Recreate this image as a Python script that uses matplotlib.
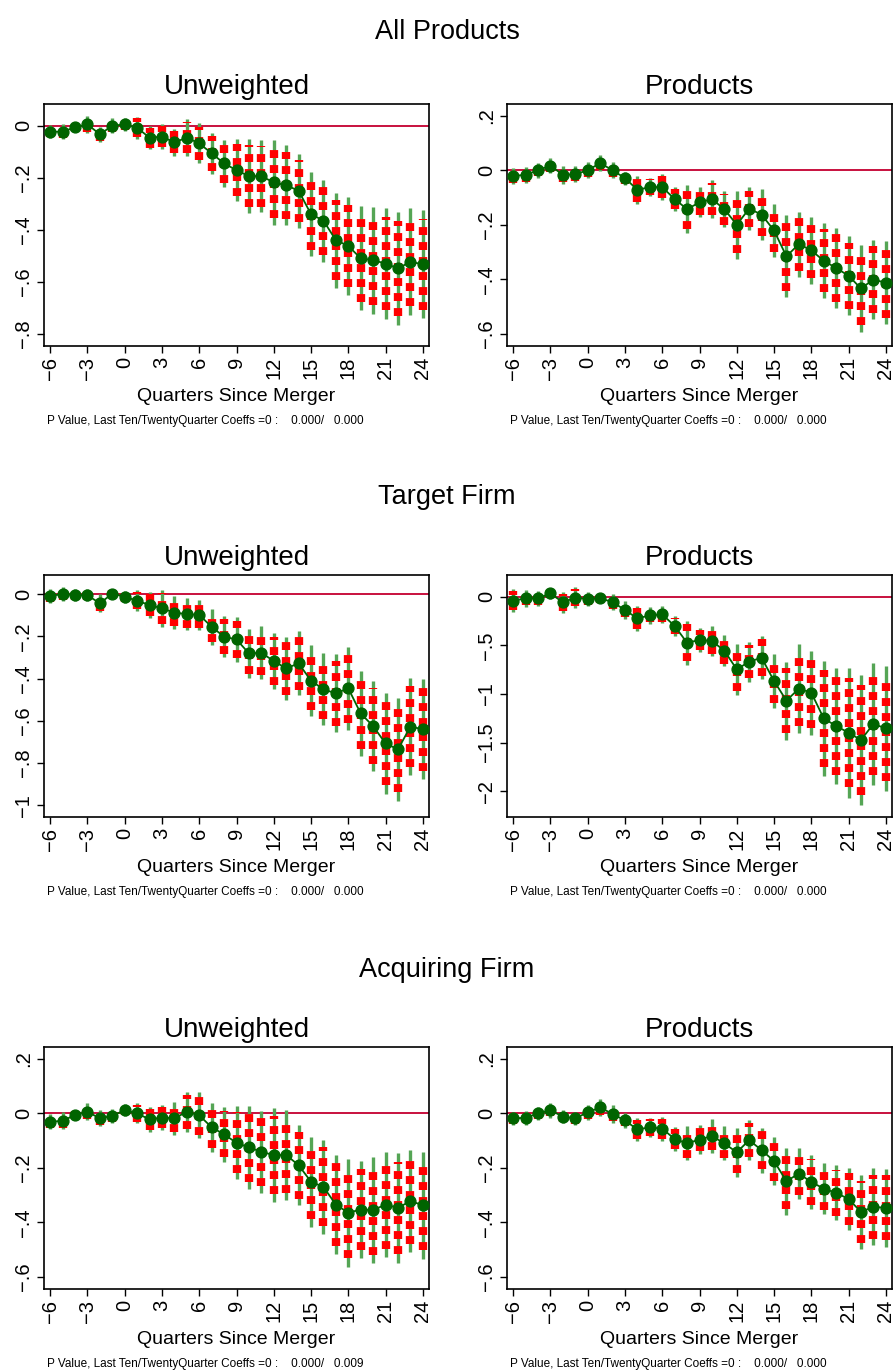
import matplotlib.pyplot as plt
import numpy as np

plt.rcParams['font.family'] = ['Liberation Sans', 'DejaVu Sans']

quarters = np.arange(-6, 25)

# point estimates and 95% CI half-widths, one pair per panel
all_unw_est = [-0.023, -0.023, -0.006, 0.005, -0.033, 0.0, 0.005, -0.008, -0.046, -0.042,
               -0.064, -0.046, -0.068, -0.106, -0.145, -0.171, -0.194, -0.194, -0.218, -0.229,
               -0.25, -0.34, -0.365, -0.44, -0.462, -0.51, -0.517, -0.53, -0.549, -0.523, -0.533]
all_unw_ci = [0.026, 0.029, 0.016, 0.033, 0.029, 0.029, 0.026, 0.043, 0.045, 0.047,
              0.051, 0.07, 0.077, 0.079, 0.091, 0.12, 0.142, 0.139, 0.162, 0.154,
              0.143, 0.162, 0.158, 0.183, 0.188, 0.2, 0.206, 0.215, 0.218, 0.205, 0.208]

all_prod_est = [-0.021, -0.017, 0.0, 0.017, -0.017, -0.015, 0.0, 0.026, 0.0, -0.029,
                -0.072, -0.062, -0.062, -0.106, -0.143, -0.118, -0.106, -0.143, -0.2, -0.141,
                -0.163, -0.221, -0.316, -0.271, -0.294, -0.332, -0.359, -0.387, -0.434, -0.401, -0.413]
all_prod_ci = [0.03, 0.03, 0.027, 0.029, 0.032, 0.029, 0.03, 0.03, 0.03, 0.024,
               0.051, 0.034, 0.049, 0.043, 0.087, 0.055, 0.07, 0.067, 0.125, 0.079,
               0.094, 0.096, 0.151, 0.119, 0.122, 0.137, 0.148, 0.145, 0.16, 0.146, 0.152]

tgt_unw_est = [-0.009, 0.0, -0.005, -0.006, -0.044, 0.002, -0.013, -0.032, -0.052, -0.068,
               -0.088, -0.095, -0.099, -0.155, -0.202, -0.215, -0.281, -0.278, -0.317, -0.352,
               -0.328, -0.41, -0.451, -0.47, -0.446, -0.565, -0.625, -0.707, -0.735, -0.628, -0.639]
tgt_unw_ci = [0.035, 0.032, 0.027, 0.029, 0.042, 0.021, 0.028, 0.049, 0.063, 0.088,
              0.077, 0.076, 0.073, 0.084, 0.098, 0.105, 0.116, 0.125, 0.134, 0.148,
              0.152, 0.167, 0.17, 0.185, 0.197, 0.201, 0.213, 0.237, 0.243, 0.229, 0.237]

tgt_prod_est = [-0.041, -0.017, -0.017, 0.034, -0.058, -0.01, -0.024, -0.017, -0.055, -0.137,
                -0.223, -0.192, -0.182, -0.301, -0.473, -0.445, -0.455, -0.555, -0.747, -0.668,
                -0.627, -0.866, -1.068, -0.945, -0.986, -1.25, -1.329, -1.397, -1.473, -1.308, -1.353]
tgt_prod_ci = [0.12, 0.086, 0.077, 0.057, 0.108, 0.106, 0.068, 0.051, 0.086, 0.091,
               0.128, 0.086, 0.089, 0.103, 0.228, 0.12, 0.154, 0.159, 0.265, 0.205,
               0.223, 0.274, 0.402, 0.454, 0.433, 0.592, 0.599, 0.668, 0.668, 0.623, 0.642]

acq_unw_est = [-0.031, -0.027, -0.006, 0.006, -0.018, -0.009, 0.012, 0.0, -0.022, -0.015,
               -0.018, 0.006, -0.007, -0.051, -0.077, -0.108, -0.125, -0.141, -0.153, -0.153,
               -0.19, -0.251, -0.27, -0.335, -0.365, -0.353, -0.355, -0.335, -0.347, -0.322, -0.337]
acq_unw_ci = [0.028, 0.032, 0.018, 0.032, 0.029, 0.025, 0.022, 0.037, 0.045, 0.047,
              0.061, 0.074, 0.084, 0.089, 0.101, 0.134, 0.152, 0.15, 0.172, 0.164,
              0.147, 0.165, 0.173, 0.181, 0.198, 0.179, 0.195, 0.193, 0.202, 0.187, 0.196]

acq_prod_est = [-0.018, -0.016, 0.0, 0.012, -0.012, -0.018, 0.004, 0.022, -0.002, -0.026,
                -0.059, -0.051, -0.056, -0.094, -0.11, -0.096, -0.083, -0.11, -0.143, -0.098,
                -0.135, -0.175, -0.249, -0.221, -0.252, -0.276, -0.292, -0.314, -0.362, -0.343, -0.347]
acq_prod_ci = [0.025, 0.025, 0.025, 0.027, 0.025, 0.025, 0.028, 0.031, 0.032, 0.026,
               0.043, 0.036, 0.044, 0.043, 0.062, 0.052, 0.061, 0.062, 0.091, 0.074,
               0.083, 0.088, 0.123, 0.095, 0.1, 0.093, 0.101, 0.115, 0.137, 0.141, 0.142]

section_titles = ['All Products', 'Target Firm', 'Acquiring Firm']
panel_titles = ['Unweighted', 'Products']
xticks = np.arange(-6, 25, 3)
pvals = [('0.000', '0.000'), ('0.000', '0.000'),
         ('0.000', '0.000'), ('0.000', '0.000'),
         ('0.000', '0.009'), ('0.000', '0.000')]

z90 = 1.645 / 1.96


def stata_label(v):
    s = ('%g' % round(v, 2))
    s = s.replace('0.', '.')
    return s.replace('-', '\u2212')


def draw_panel(ax, est, ci, ylim, yticks, pv):
    est = np.array(est)
    ci = np.array(ci)
    ax.axhline(0, color='#c8103e', lw=1.4, zorder=1)
    # 95% band in green, 90% band as thick red dashes on top
    ax.vlines(quarters, est - ci, est + ci, colors='#55a555', lw=2.4, zorder=2)
    ax.vlines(quarters, est - ci * z90, est + ci * z90, colors='#ff0000', lw=6.0,
              linestyles=(0, (0.95, 0.85)), zorder=3)
    ax.plot(quarters, est, color='#006400', lw=1.3, marker='o', ms=7.8, zorder=4)
    ax.set_xlim(-6.5, 24.5)
    ax.set_ylim(*ylim)
    ax.set_xticks(xticks)
    ax.set_xticklabels([stata_label(t) for t in xticks], rotation=90)
    ax.set_yticks(yticks)
    ax.set_yticklabels([stata_label(t) for t in yticks], rotation=90, va='center')
    ax.tick_params(labelsize=14.5, length=5, width=1, direction='out', pad=3)
    for s in ax.spines.values():
        s.set_linewidth(1.2)
    ax.set_xlabel('Quarters Since Merger', fontsize=14, labelpad=6)
    ax.text(0.008, -0.31, 'P Value, Last Ten/TwentyQuarter Coeffs =0 :    %s/   %s' % pv,
            transform=ax.transAxes, fontsize=8.5, va='center', ha='left')


fig = plt.figure(figsize=(8.94, 13.7), dpi=100)
W, H = 894, 1370

panels = [
    (all_unw_est, all_unw_ci, (-0.847, 0.0835), [-0.8, -0.6, -0.4, -0.2, 0]),
    (all_prod_est, all_prod_ci, (-0.645, 0.243), [-0.6, -0.4, -0.2, 0, 0.2]),
    (tgt_unw_est, tgt_unw_ci, (-1.055, 0.09), [-1, -0.8, -0.6, -0.4, -0.2, 0]),
    (tgt_prod_est, tgt_prod_ci, (-2.264, 0.223), [-2, -1.5, -1, -0.5, 0]),
    (acq_unw_est, acq_unw_ci, (-0.645, 0.244), [-0.6, -0.4, -0.2, 0, 0.2]),
    (acq_prod_est, acq_prod_ci, (-0.645, 0.244), [-0.6, -0.4, -0.2, 0, 0.2]),
]

tops = [104, 575, 1047]
lefts = [44, 507]
aw, ah = 385, 242
title_y = [32, 497, 970]

for r in range(3):
    fig.text(0.5, 1 - title_y[r] / H, section_titles[r], ha='center', va='center', fontsize=19.5)
    for c in range(2):
        k = r * 2 + c
        ax = fig.add_axes([lefts[c] / W, 1 - (tops[r] + ah) / H, aw / W, ah / H])
        est, ci, ylim, yt = panels[k]
        draw_panel(ax, est, ci, ylim, yt, pvals[k])
        ax.set_title(panel_titles[c], fontsize=20, pad=7)

fig.savefig('out.png', dpi=100)
